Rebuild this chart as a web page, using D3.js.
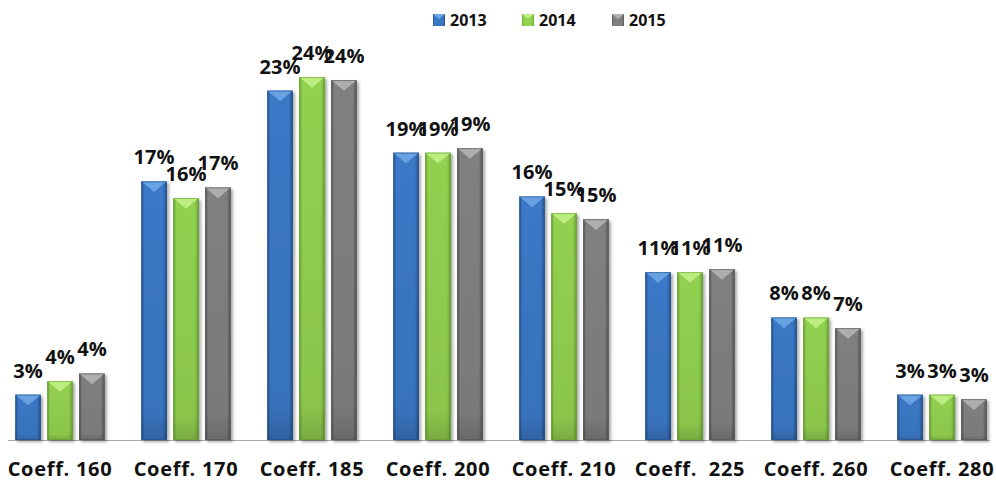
<!DOCTYPE html>
<html>
<head>
<meta charset="utf-8">
<script src="https://cdn.jsdelivr.net/npm/d3@7"></script>
<style>
  body { margin: 0; background: #fff; }
  text { font-family: "Open Sans", "DejaVu Sans", sans-serif; font-weight: bold; fill: #111; }
</style>
</head>
<body>
<div id="chart"></div>
<script>
// chart data
const categories = ["Coeff. 160", "Coeff. 170", "Coeff. 185", "Coeff. 200", "Coeff. 210", "Coeff.  225", "Coeff. 260", "Coeff. 280"];
const years = ["2013", "2014", "2015"];
const values2013 = [3.0, 17.1, 23.1, 19.0, 16.1, 11.1, 8.1, 3.0];
const values2014 = [3.9, 16.0, 24.0, 19.0, 15.0, 11.1, 8.1, 3.0];
const values2015 = [4.4, 16.7, 23.8, 19.3, 14.6, 11.3, 7.4, 2.7];

const seriesValues = [values2013, values2014, values2015];
const colors = {
  "2013": { main: "#3b78c6", light: "#6fa6e6", dark: "#22508c" },
  "2014": { main: "#92d050", light: "#c0ef86", dark: "#66a02e" },
  "2015": { main: "#808080", light: "#b2b2b2", dark: "#545454" }
};

const width = 996, height = 482;
const baseY = 440;

const svg = d3.select("#chart").append("svg")
  .attr("width", width)
  .attr("height", height);

const defs = svg.append("defs");
years.forEach(y => {
  const g = defs.append("linearGradient")
    .attr("id", "grad" + y)
    .attr("x1", 0).attr("x2", 1).attr("y1", 0).attr("y2", 0);
  g.append("stop").attr("offset", "0%").attr("stop-color", colors[y].dark);
  g.append("stop").attr("offset", "12%").attr("stop-color", colors[y].main);
  g.append("stop").attr("offset", "85%").attr("stop-color", colors[y].main);
  g.append("stop").attr("offset", "100%").attr("stop-color", colors[y].dark);

  const v = defs.append("linearGradient")
    .attr("id", "vgrad" + y)
    .attr("x1", 0).attr("x2", 0).attr("y1", 0).attr("y2", 1);
  v.append("stop").attr("offset", "0%").attr("stop-color", "#000").attr("stop-opacity", 0);
  v.append("stop").attr("offset", "90%").attr("stop-color", "#000").attr("stop-opacity", 0.05);
  v.append("stop").attr("offset", "100%").attr("stop-color", "#000").attr("stop-opacity", 0.18);
});

const shadow = defs.append("filter").attr("id", "shadow")
  .attr("x", "-20%").attr("y", "-5%").attr("width", "150%").attr("height", "115%");
shadow.append("feDropShadow")
  .attr("dx", 2).attr("dy", 2).attr("stdDeviation", 1.6)
  .attr("flood-color", "#000").attr("flood-opacity", 0.35);

// scales
const x = d3.scaleBand()
  .domain(categories)
  .range([-3, 1005])
  .paddingInner(0.29)
  .paddingOuter(0.145);

const xs = d3.scaleBand()
  .domain(years)
  .range([0, x.bandwidth()])
  .paddingInner(0.2);

const y = d3.scaleLinear()
  .domain([0, 24])
  .range([baseY, baseY - 363]);

// axis line
svg.append("line")
  .attr("x1", 8).attr("x2", 990)
  .attr("y1", baseY + 0.5).attr("y2", baseY + 0.5)
  .attr("stroke", "#a6a6a6").attr("stroke-width", 1.2);

// bars
const groups = svg.append("g").selectAll("g")
  .data(categories)
  .join("g")
  .attr("transform", d => `translate(${x(d)},0)`);

const barData = (d, i) => years.map((yr, k) => ({ yr, v: seriesValues[k][i] }));

groups.each(function(cat, i) {
  const g = d3.select(this);
  barData(cat, i).forEach(b => {
    const bx = xs(b.yr), bw = xs.bandwidth();
    const top = y(b.v), h = baseY - top;
    const bar = g.append("g").attr("filter", "url(#shadow)");
    bar.append("rect")
      .attr("x", bx).attr("y", top)
      .attr("width", bw).attr("height", h)
      .attr("fill", `url(#grad${b.yr})`);
    bar.append("rect")
      .attr("x", bx).attr("y", top)
      .attr("width", bw).attr("height", h)
      .attr("fill", `url(#vgrad${b.yr})`);
    // top bevel chevron
    bar.append("path")
      .attr("d", `M${bx},${top} L${bx + bw},${top} L${bx + bw / 2},${top + bw * 0.42} Z`)
      .attr("fill", colors[b.yr].light)
      .attr("opacity", 0.9);
    bar.append("rect")
      .attr("x", bx + 0.5).attr("y", top + 0.5)
      .attr("width", bw - 1).attr("height", h - 1)
      .attr("fill", "none")
      .attr("stroke", colors[b.yr].dark)
      .attr("stroke-opacity", 0.6);

    // value label
    g.append("text")
      .attr("x", bx + bw / 2)
      .attr("y", top - 17)
      .attr("text-anchor", "middle")
      .style("font-size", "20px")
      .text(Math.round(b.v) + "%");
  });
});

// category labels
svg.append("g").selectAll("text")
  .data(categories)
  .join("text")
  .attr("x", d => x(d) + x.bandwidth() / 2)
  .attr("y", 476)
  .attr("text-anchor", "middle")
  .style("font-size", "20px")
  .style("letter-spacing", "0.7px")
  .style("white-space", "pre")
  .attr("xml:space", "preserve")
  .text(d => d);

// legend
const legendX = [433, 522, 612];
const legend = svg.append("g").selectAll("g")
  .data(years)
  .join("g")
  .attr("transform", (d, i) => `translate(${legendX[i]},14)`);

legend.append("rect")
  .attr("width", 12).attr("height", 12)
  .attr("fill", d => `url(#grad${d})`);
legend.append("path")
  .attr("d", "M0,0 L12,0 L6,5 Z")
  .attr("fill", d => colors[d].light);
legend.append("text")
  .attr("x", 17).attr("y", 11.5)
  .style("font-size", "16px")
  .text(d => d);
</script>
</body>
</html>
